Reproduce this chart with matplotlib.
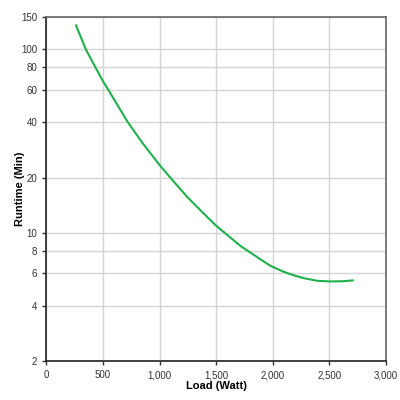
import matplotlib
matplotlib.use("Agg")
import matplotlib.pyplot as plt
from matplotlib.ticker import FixedLocator, NullLocator

# load (W) vs runtime (min)
load = [262, 348, 432, 500, 548, 600, 720, 850, 1000, 1100, 1243, 1375, 1494, 1715, 1860, 1981, 2099, 2190, 2277, 2395, 2513, 2617, 2706]
runtime = [135, 100, 80, 67, 60, 53, 40, 30.8, 23.4, 19.8, 15.7, 13.0, 11.0, 8.47, 7.38, 6.59, 6.12, 5.85, 5.65, 5.47, 5.43, 5.44, 5.5]

xticks = [0, 500, 1000, 1500, 2000, 2500, 3000]
xlabels = ["0", "500", "1,000", "1,500", "2,000", "2,500", "3,000"]
yticks = [2, 4, 6, 8, 10, 20, 40, 60, 80, 100, 150]

plt.rcParams['font.family'] = ['Liberation Sans', 'DejaVu Sans']

fig = plt.figure(figsize=(4, 4), dpi=100)
ax = fig.add_axes([0.116, 0.0975, 0.849, 0.86])

ax.plot(load, runtime, color='#1fb04c', lw=1.5, solid_joinstyle='round')

ax.set_yscale('log')
ax.set_xlim(0, 3000)
ax.set_ylim(2, 150)
ax.xaxis.set_major_locator(FixedLocator(xticks))
ax.set_xticklabels(xlabels)
ax.yaxis.set_major_locator(FixedLocator(yticks))
ax.yaxis.set_minor_locator(NullLocator())
ax.set_yticklabels([str(t) for t in yticks])

ax.grid(True, color='#d4d4d4', lw=1)
ax.set_axisbelow(True)
ax.tick_params(labelsize=7, colors='#333333', length=3, width=1)

for s in ['left', 'bottom']:
    ax.spines[s].set_color('#222222')
    ax.spines[s].set_linewidth(1.2)
for s in ['top', 'right']:
    ax.spines[s].set_color('#666666')
    ax.spines[s].set_linewidth(1.2)

ax.set_xlabel('Load (Watt)', fontsize=8, fontweight='bold', labelpad=1)
ax.set_ylabel('Runtime (Min)', fontsize=8, fontweight='bold', labelpad=-3)

fig.savefig('out.png', dpi=100)
